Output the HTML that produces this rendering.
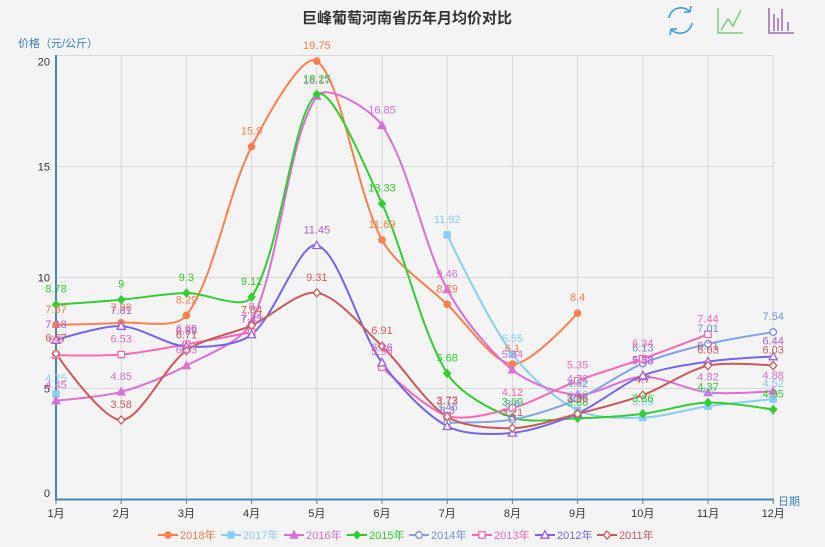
<!DOCTYPE html>
<html><head><meta charset="utf-8">
<style>
html,body{margin:0;padding:0;background:#f4f4f4;}
#c{width:825px;height:547px;position:relative;overflow:hidden;background:#f4f4f4;}
svg{position:absolute;left:0;top:0;}
text{font-family:"Liberation Sans","Noto Sans CJK SC",sans-serif;}
.lb{font-size:11px;text-anchor:middle;}
</style></head>
<body><div id="c">
<svg id="s" width="825" height="547" viewBox="0 0 825 547" xmlns="http://www.w3.org/2000/svg">
<!-- title -->
<text x="407" y="23" text-anchor="middle" font-size="15" font-weight="bold" fill="#333" style="font-family:'Liberation Sans','Noto Sans CJK SC',sans-serif">巨峰葡萄河南省历年月均价对比</text>
<!-- toolbox: refresh -->
<g fill="none" stroke="#3d9ad6" stroke-width="1.6">
<path d="M669,18 A12,12 0 0 1 690,12"/>
<path d="M690,12 L691,6 M690,12 L684,12"/>
<path d="M692,23 A12,12 0 0 1 671,29"/>
<path d="M671,29 L670,35 M671,29 L677,29"/>
</g>
<!-- toolbox: line -->
<g fill="none" stroke="#6cc46c" stroke-width="1.3">
<path d="M718,8 L718,33 L743,33"/>
<path d="M721,30 L728,19 L733,26 L741,10"/>
</g>
<!-- toolbox: bar -->
<g fill="none" stroke="#8a56b2" stroke-width="1.3">
<path d="M769,8 L769,33 L794,33"/>
<path d="M774,31 L774,14 M778,31 L778,18 M782,31 L782,9 M788,31 L788,22"/>
</g>
<!-- axis name -->
<text x="18" y="47" font-size="11" fill="#3a80b5" style="font-family:'Liberation Sans','Noto Sans CJK SC',sans-serif">价格（元/公斤）</text>
<text x="778" y="505" font-size="11" fill="#3a80b5" style="font-family:'Liberation Sans','Noto Sans CJK SC',sans-serif">日期</text>
<!-- grid -->
<g id="grid" stroke="#d8d8d8" stroke-width="1"></g>
<!-- y labels -->
<g font-size="11" fill="#333" text-anchor="end">
<text x="50" y="65.5">20</text>
<text x="50" y="170.5">15</text>
<text x="50" y="281.5">10</text>
<text x="50" y="392.5">5</text>
<text x="50" y="497">0</text>
</g>
<!-- x labels -->
<g font-size="11" fill="#333" text-anchor="middle" style="font-family:'Liberation Sans','Noto Sans CJK SC',sans-serif">
<text x="56" y="517">1月</text>
<text x="121.2" y="517">2月</text>
<text x="186.4" y="517">3月</text>
<text x="251.6" y="517">4月</text>
<text x="316.8" y="517">5月</text>
<text x="382" y="517">6月</text>
<text x="447.2" y="517">7月</text>
<text x="512.4" y="517">8月</text>
<text x="577.6" y="517">9月</text>
<text x="642.8" y="517">10月</text>
<text x="708" y="517">11月</text>
<text x="773.2" y="517">12月</text>
</g>
<g id="series"></g>
<!-- axes -->
<line x1="56" y1="55" x2="56" y2="500" stroke="#4a86b5" stroke-width="2"/>
<line x1="55" y1="499.5" x2="774" y2="499.5" stroke="#4a86b5" stroke-width="2"/>
<g id="ticks" stroke="#4a86b5" stroke-width="1"></g>
<g id="marks"></g>
<!-- data labels -->
<g class="lb" fill="#ff7f50">
<text x="56" y="312.8">7.87</text><text x="121.2" y="310.8">7.96</text><text x="186.4" y="303.5">8.29</text><text x="251.6" y="134.5">15.9</text><text x="316.8" y="49.1">19.75</text><text x="382" y="228">11.69</text><text x="447.2" y="292.4">8.79</text><text x="512.4" y="352.1">6.1</text><text x="577.6" y="301">8.4</text>
</g>
<g class="lb" fill="#87cefa">
<text x="56" y="382.1">4.75</text><text x="447.2" y="222.9">11.92</text><text x="512.4" y="342.1">6.55</text><text x="577.6" y="398.3">4.02</text><text x="642.8" y="405.6">3.69</text><text x="708" y="394.3">4.2</text><text x="773.2" y="387.2">4.52</text>
</g>
<g class="lb" fill="#da70d6">
<text x="56" y="388.7">4.45</text><text x="121.2" y="379.8">4.85</text><text x="186.4" y="353.6">6.03</text><text x="251.6" y="309.9">8</text><text x="316.8" y="84.1">18.17</text><text x="382" y="113.4">16.85</text><text x="447.2" y="277.5">9.46</text><text x="512.4" y="357.9">5.84</text><text x="577.6" y="382.7">4.72</text><text x="642.8" y="364.7">5.53</text><text x="708" y="380.5">4.82</text><text x="773.2" y="379.2">4.88</text>
</g>
<g class="lb" fill="#32cd32">
<text x="56" y="292.6">8.78</text><text x="121.2" y="287.7">9</text><text x="186.4" y="281">9.3</text><text x="251.6" y="285">9.12</text><text x="316.8" y="82.4">18.25</text><text x="382" y="191.6">13.33</text><text x="447.2" y="361.4">5.68</text><text x="512.4" y="405.6">3.69</text><text x="577.6" y="406.2">3.66</text><text x="642.8" y="401.8">3.86</text><text x="708" y="390.5">4.37</text><text x="773.2" y="397.6">4.05</text>
</g>
<g class="lb" fill="#6f92dd">
<text x="447.2" y="410.7">3.46</text><text x="512.4" y="407.6">3.6</text><text x="577.6" y="387.2">4.52</text><text x="642.8" y="351.4">6.13</text><text x="708" y="331.9">7.01</text><text x="773.2" y="320.1">7.54</text>
</g>
<g class="lb" fill="#ff69b4">
<text x="56" y="343.2">6.5</text><text x="121.2" y="342.5">6.53</text><text x="186.4" y="332.3">6.99</text><text x="251.6" y="320.1">7.54</text><text x="382" y="355.2">5.96</text><text x="447.2" y="403.8">3.77</text><text x="512.4" y="396">4.12</text><text x="577.6" y="368.7">5.35</text><text x="642.8" y="346.8">6.34</text><text x="708" y="322.3">7.44</text>
</g>
<g class="lb" fill="#b061d6">
<text x="56" y="328.1">7.18</text><text x="121.2" y="314.1">7.81</text><text x="186.4" y="334.5">6.89</text><text x="251.6" y="322.6">7.43</text><text x="316.8" y="233.3">11.45</text><text x="382" y="350.8">6.16</text><text x="447.2" y="414.2">3.3</text><text x="512.4" y="420.9">3</text><text x="577.6" y="401.4">3.88</text><text x="642.8" y="363.6">5.58</text><text x="708" y="349.6">6.21</text><text x="773.2" y="344.5">6.44</text>
</g>
<g class="lb" fill="#c9605c">
<text x="56" y="341.7">6.57</text><text x="121.2" y="408">3.58</text><text x="186.4" y="338.5">6.71</text><text x="251.6" y="313.5">7.84</text><text x="316.8" y="280.8">9.31</text><text x="382" y="334.1">6.91</text><text x="447.2" y="404.7">3.73</text><text x="512.4" y="416.2">3.21</text><text x="577.6" y="401.8">3.86</text><text x="642.8" y="383.2">4.7</text><text x="708" y="353.6">6.03</text><text x="773.2" y="353.6">6.03</text>
</g>
<!-- legend -->
<g id="legend"></g>
<g font-size="11" style="font-family:'Liberation Sans','Noto Sans CJK SC',sans-serif">
<text x="180" y="539" fill="#ff7f50">2018年</text>
<text x="243" y="539" fill="#87cefa">2017年</text>
<text x="306" y="539" fill="#da70d6">2016年</text>
<text x="369" y="539" fill="#32cd32">2015年</text>
<text x="431" y="539" fill="#6f92dd">2014年</text>
<text x="494" y="539" fill="#ff69b4">2013年</text>
<text x="557" y="539" fill="#7b68ee">2012年</text>
<text x="619" y="539" fill="#cd5c5c">2011年</text>
</g>
</svg>
</div>
<script>
(function(){
var NS="http://www.w3.org/2000/svg";
function el(tag,attrs,parent){var e=document.createElementNS(NS,tag);for(var k in attrs)e.setAttribute(k,attrs[k]);parent.appendChild(e);return e;}
var X=function(i){return 56+i*65.2;}, Y=function(v){return 499.5-22.2*v;};
var grid=document.getElementById('grid');
for(var v=5;v<=20;v+=5){el('line',{x1:56,y1:Y(v),x2:773.2,y2:Y(v)},grid);}
for(var i=1;i<12;i++){el('line',{x1:X(i),y1:55.5,x2:X(i),y2:499.5},grid);}
var ticks=document.getElementById('ticks');
for(var i=0;i<12;i++){el('line',{x1:X(i),y1:499.5,x2:X(i),y2:504},ticks);}
var N=null;
var S=[
 {c:'#ff7f50',lc:'#ff7f50',s:'circle',d:[7.87,7.96,8.29,15.9,19.75,11.69,8.79,6.1,8.4,N,N,N]},
 {c:'#87cefa',lc:'#87cefa',s:'rect',d:[4.75,N,N,N,N,N,11.92,6.55,4.02,3.69,4.2,4.52]},
 {c:'#da70d6',lc:'#da70d6',s:'tri',d:[4.45,4.85,6.03,8,18.17,16.85,9.46,5.84,4.72,5.53,4.82,4.88]},
 {c:'#32cd32',lc:'#32cd32',s:'dia',d:[8.78,9,9.3,9.12,18.25,13.33,5.68,3.69,3.66,3.86,4.37,4.05]},
 {c:'#6f92dd',lc:'#85a2e6',s:'ecircle',d:[N,N,N,N,N,N,3.46,3.6,4.52,6.13,7.01,7.54]},
 {c:'#ff69b4',lc:'#ff69b4',s:'erect',d:[6.5,6.53,6.99,7.54,N,5.96,3.77,4.12,5.35,6.34,7.44,N]},
 {c:'#9a5fe0',lc:'#7466e8',s:'etri',d:[7.18,7.81,6.89,7.43,11.45,6.16,3.3,3.0,3.88,5.58,6.21,6.44]},
 {c:'#cd5c5c',lc:'#c85a57',s:'edia',d:[6.57,3.58,6.71,7.84,9.31,6.91,3.73,3.21,3.86,4.7,6.03,6.03]}
];
var SM=0.3;
function bez(p){
 var n=p.length;
 if(n<2)return '';
 var cps=[];
 for(var i=0;i<n;i++){
  if(i===0||i===n-1){cps.push([p[i][0],p[i][1]]);continue;}
  var pr=p[i-1],nx=p[i+1],pt=p[i];
  var vx=(nx[0]-pr[0])*SM, vy=(nx[1]-pr[1])*SM;
  var d0=Math.hypot(pt[0]-pr[0],pt[1]-pr[1]), d1=Math.hypot(pt[0]-nx[0],pt[1]-nx[1]);
  var sum=d0+d1; if(sum!==0){d0/=sum;d1/=sum;}
  cps.push([pt[0]-vx*d0,pt[1]-vy*d0]);
  cps.push([pt[0]+vx*d1,pt[1]+vy*d1]);
 }
 var d='M'+p[0][0].toFixed(2)+','+p[0][1].toFixed(2);
 for(var i=0;i<n-1;i++){
  var a=cps[2*i],b=cps[2*i+1],e=p[i+1];
  d+='C'+a[0].toFixed(2)+','+a[1].toFixed(2)+' '+b[0].toFixed(2)+','+b[1].toFixed(2)+' '+e[0].toFixed(2)+','+e[1].toFixed(2);
 }
 return d;
}
function marker(s,x,y,c,parent){
 var empty=s.charAt(0)==='e';
 var base=empty?s.slice(1):s;
 var fill=empty?'#fff':c;
 var a={fill:fill,stroke:c,'stroke-width':empty?1.3:1};
 if(base==='circle'){a.cx=x;a.cy=y;a.r=3.3;el('circle',a,parent);}
 else if(base==='rect'){a.x=x-3.2;a.y=y-3.2;a.width=6.4;a.height=6.4;el('rect',a,parent);}
 else if(base==='tri'){a.points=x+','+(y-4.2)+' '+(x-4)+','+(y+3.2)+' '+(x+4)+','+(y+3.2);el('polygon',a,parent);}
 else if(base==='dia'){a.points=x+','+(y-4)+' '+(x+3.6)+','+y+' '+x+','+(y+4)+' '+(x-3.6)+','+y;el('polygon',a,parent);}
}
var sg=document.getElementById('series'),mg=document.getElementById('marks');
S.forEach(function(sr){
 var segs=[],cur=[];
 sr.d.forEach(function(v,i){if(v===null){if(cur.length)segs.push(cur);cur=[];}else cur.push([X(i),Y(v)]);});
 if(cur.length)segs.push(cur);
 segs.forEach(function(s2){var d=bez(s2);if(d)el('path',{d:d,fill:'none',stroke:sr.lc,'stroke-width':2,'stroke-linejoin':'round'},sg);});
});
S.forEach(function(sr){
 sr.d.forEach(function(v,i){if(v!==null)marker(sr.s,X(i),Y(v),sr.c,mg);});
});
var lg=document.getElementById('legend');
var LX=[158,221,284,347,409,472,535,597];
S.forEach(function(sr,k){
 var x=LX[k],y=535;
 el('line',{x1:x,y1:y,x2:x+20,y2:y,stroke:sr.lc,'stroke-width':2},lg);
 marker(sr.s,x+10,y,sr.c,lg);
});
})();
</script>
</body></html>
